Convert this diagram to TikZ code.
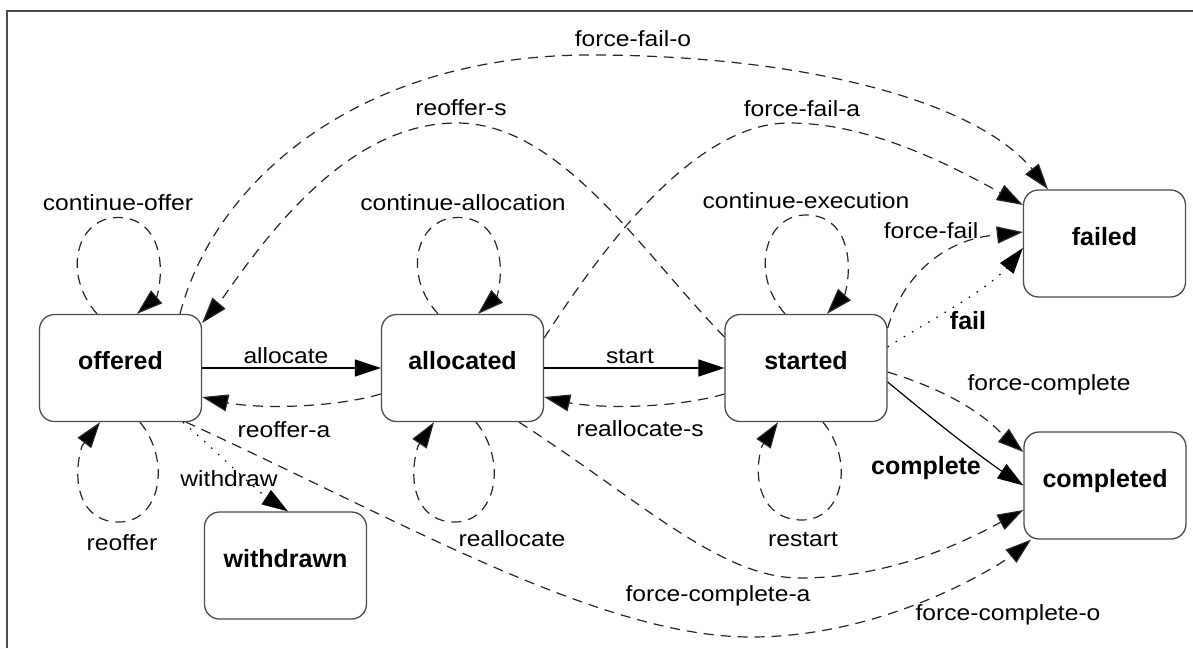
\documentclass[tikz,border=0pt]{standalone}
\usepackage{fontspec}
\setmainfont{Liberation Sans}
\newfontfamily\edgefont[FakeStretch=1.12]{Liberation Sans}
\usetikzlibrary{arrows.meta}
\begin{document}
\begin{tikzpicture}[x=1pt,y=-1pt,
  state/.style={draw=black!70, line width=1.3pt, rounded corners=15pt, minimum width=162pt, minimum height=107pt, inner sep=0pt, text height=10pt, text depth=7pt, font=\fontsize{25}{30}\selectfont\bfseries},
  elabel/.style={anchor=base, inner sep=0pt, font=\edgefont\fontsize{22}{26}\selectfont},
  blabel/.style={anchor=base, inner sep=0pt, font=\fontsize{25}{30}\selectfont\bfseries},
  edgebase/.style={line width=1.2pt, -{Triangle[length=26pt,width=17pt,fill=black]}},
  solidedge/.style={edgebase},
  dashedge/.style={edgebase, draw=black!85, dash pattern=on 10pt off 7pt},
  dotedge/.style={edgebase, dash pattern=on 1.5pt off 8pt},
]
\useasboundingbox (0,0) rectangle (1193,648);
\draw[line width=1.5pt, black!70] (7,648) -- (7,11) -- (1193,11);

% states
\node[state] (offered) at (120.5,368) {offered};
\node[state] (allocated) at (462.5,368) {allocated};
\node[state] (started) at (806,368) {started};
\node[state] (failed) at (1104.5,243.5) {failed};
\node[state] (completed) at (1105,485.5) {completed};
\node[state] (withdrawn) at (285.5,565.5) {withdrawn};

% straight transitions
\draw[solidedge] (offered.east) -- (allocated.west);
\draw[solidedge] (allocated.east) -- (started.west);
% back transitions
\draw[dashedge] ([yshift=-26pt]allocated.west) .. controls (340,406) and (270,410) .. (228,403) -- ([yshift=-29pt]offered.east);
\draw[dashedge] ([yshift=-26pt]started.west) .. controls (684,406) and (614,410) .. (570,403) -- ([yshift=-29pt]allocated.east);

% self loops above
\draw[dashedge] ([xshift=-23.5pt]offered.north) .. controls (62,274.5) and (76,217.5) .. (118,217.5) .. controls (158,217.5) and (166,261.5) .. (157,296.5) -- ([xshift=16.5pt]offered.north);
\draw[dashedge] ([xshift=-24.5pt]allocated.north) .. controls (402,274.5) and (416,217.5) .. (458,217.5) .. controls (498,217.5) and (506,261.5) .. (497,296.5) -- ([xshift=15.5pt]allocated.north);
\draw[dashedge] ([xshift=-21pt]started.north) .. controls (750,274.5) and (764,215) .. (806,215) .. controls (846,215) and (854,259) .. (845,294) -- ([xshift=21pt]started.north);
% self loops below
\draw[dashedge] ([xshift=19.5pt]offered.south) .. controls (172,461.5) and (160,522) .. (119,522) .. controls (78,522) and (72,478) .. (82,446) -- ([xshift=-20.5pt]offered.south);
\draw[dashedge] ([xshift=13.5pt]allocated.south) .. controls (508,461.5) and (496,522) .. (455,522) .. controls (414,522) and (408,478) .. (418,446) -- ([xshift=-28.5pt]allocated.south);
\draw[dashedge] ([xshift=17pt]started.south) .. controls (855,461.5) and (843,520) .. (802,520) .. controls (761,520) and (752,478) .. (762,446) -- ([xshift=-28pt]started.south);

% long transitions
\draw[dashedge] ([xshift=59.5pt]offered.north) .. controls (215,180) and (360,55) .. (590,55) .. controls (800,55) and (975,100) .. (1032,169) -- ([xshift=-56.5pt]failed.north);
\draw[dashedge] ([yshift=31pt]started.west) .. controls (640,250) and (560,123) .. (457,123) .. controls (350,123) and (270,230) .. (220,302) -- ([yshift=45pt]offered.east);
\draw[dashedge] ([yshift=30pt]allocated.east) .. controls (595,260) and (690,123) .. (789,123) .. controls (870,123) and (950,165) .. (1001,193) -- ([yshift=38.5pt]failed.west);
\draw[dashedge] ([yshift=40pt]started.east) .. controls (905,270) and (950,238) .. (997,235) -- ([yshift=11.5pt]failed.west);
\draw[dotedge] ([yshift=21pt]started.east) .. controls (930,320) and (980,295) .. (1007,268) -- ([yshift=-4.5pt]failed.west);
\draw[dashedge] ([yshift=-4pt]started.east) .. controls (930,385) and (975,405) .. (1003,435) -- ([yshift=33.5pt]completed.west);
\draw[solidedge] ([yshift=-14pt]started.east) .. controls (924,412) and (962,443) .. (1000,470) -- (completed.west);
\draw[dashedge] ([xshift=56.5pt]allocated.south) .. controls (640,500) and (720,578) .. (800,578) .. controls (880,578) and (950,550) .. (1001,522) -- ([yshift=-24.5pt]completed.west);
\draw[dashedge] ([xshift=65.5pt]offered.south) .. controls (400,520) and (600,637) .. (751,637) .. controls (860,637) and (960,590) .. (1010,557) -- ([xshift=-74pt]completed.south);
\draw[dotedge] ([xshift=62.5pt]offered.south) .. controls (220,455) and (245,480) .. (266,497) -- ([xshift=2.5pt]withdrawn.north);

% labels
\node[elabel] (l-co) at (118,210) {continue-offer};
\node[elabel] (l-ros) at (461,115) {reoffer-s};
\node[elabel] (l-ffo) at (633,46) {force-fail-o};
\node[elabel] (l-ffa) at (802,116) {force-fail-a};
\node[elabel] (l-ca) at (463,210) {continue-allocation};
\node[elabel] (l-ce) at (806,208) {continue-execution};
\node[elabel] (l-ff) at (931,238) {force-fail};
\node[blabel] (l-fail) at (968,329) {fail};
\node[elabel] (l-alloc) at (286,363) {allocate};
\node[elabel] (l-start) at (630,363) {start};
\node[elabel] (l-roa) at (284,437) {reoffer-a};
\node[elabel] (l-ras) at (640,436) {reallocate-s};
\node[elabel] (l-fc) at (1049,390) {force-complete};
\node[blabel] (l-comp) at (926,474) {complete};
\node[elabel] (l-wd) at (229,486) {withdraw};
\node[elabel] (l-ro) at (122,550) {reoffer};
\node[elabel] (l-ra) at (512,546) {reallocate};
\node[elabel] (l-rs) at (803,546) {restart};
\node[elabel] (l-fca) at (718,601) {force-complete-a};
\node[elabel] (l-fco) at (1008,620) {force-complete-o};
\end{tikzpicture}
\end{document}
